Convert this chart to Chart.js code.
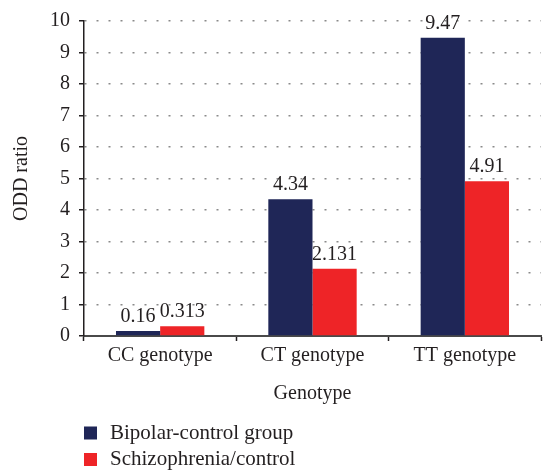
<!DOCTYPE html>
<html>
<head>
<meta charset="utf-8">
<script src="https://cdn.jsdelivr.net/npm/chart.js@4.4.1/dist/chart.umd.min.js"></script>
<style>
  html, body { margin: 0; padding: 0; background: #ffffff; }
  #wrap { width: 543px; height: 470px; position: relative; }
</style>
</head>
<body>
<div id="wrap"><canvas id="c" width="543" height="470"></canvas></div>
<script>
const categories = ["CC genotype", "CT genotype", "TT genotype"];
const bipolarValues = [0.16, 4.34, 9.47];
const schizoValues = [0.313, 2.131, 4.91];
const bipolarLabels = ["0.16", "4.34", "9.47"];
const schizoLabels = ["0.313", "2.131", "4.91"];
const seriesNames = ["Bipolar-control group", "Schizophrenia/control"];
const yTicks = [0, 1, 2, 3, 4, 5, 6, 7, 8, 9, 10];

const NAVY = "#1f2657";
const RED = "#ee2427";
const TEXT = "#231f20";
const FONT = "'Liberation Serif', 'DejaVu Serif', serif";

const valueLabelPlugin = {
  id: "valueLabels",
  afterDatasetsDraw(chart) {
    const ctx = chart.ctx;
    const texts = [bipolarLabels, schizoLabels];
    ctx.save();
    ctx.font = "20px " + FONT;
    ctx.fillStyle = TEXT;
    ctx.textAlign = "center";
    ctx.textBaseline = "alphabetic";
    chart.data.datasets.forEach((ds, di) => {
      const meta = chart.getDatasetMeta(di);
      meta.data.forEach((bar, i) => {
        ctx.fillText(texts[di][i], bar.x, bar.y - 9);
      });
    });
    ctx.restore();
  }
};

const customLegend = {
  id: "customLegend",
  afterDraw(chart) {
    const ctx = chart.ctx;
    const left = chart.chartArea.left;
    ctx.save();
    ctx.font = "21px " + FONT;
    ctx.textBaseline = "middle";
    ctx.textAlign = "left";
    chart.data.datasets.forEach((ds, i) => {
      const yc = 433 + i * 26.5;
      ctx.fillStyle = ds.backgroundColor;
      ctx.fillRect(left, yc - 6.5, 13, 13);
      ctx.fillStyle = TEXT;
      ctx.fillText(ds.label, left + 26, yc);
    });
    ctx.restore();
  }
};

new Chart(document.getElementById("c"), {
  type: "bar",
  data: {
    labels: categories,
    datasets: [
      { label: seriesNames[0], data: bipolarValues, backgroundColor: NAVY, borderWidth: 0 },
      { label: seriesNames[1], data: schizoValues, backgroundColor: RED, borderWidth: 0 }
    ]
  },
  options: {
    responsive: false,
    animation: false,
    devicePixelRatio: 1,
    layout: { padding: { left: 0, right: 2, top: 17, bottom: 64 } },
    datasets: { bar: { categoryPercentage: 0.58, barPercentage: 1.0 } },
    plugins: {
      legend: { display: false },
      tooltip: { enabled: false }
    },
    scales: {
      x: {
        offset: true,
        grid: {
          offset: true,
          drawOnChartArea: false,
          drawTicks: true,
          tickLength: 5,
          tickColor: TEXT,
          tickWidth: 1.5
        },
        border: { display: true, color: "#4a4a4a", width: 2 },
        ticks: { color: TEXT, font: { family: FONT, size: 20 }, padding: 3, maxRotation: 0 },
        title: { display: true, text: "Genotype", color: TEXT, font: { family: FONT, size: 20 }, padding: { top: 5, bottom: 0 } },
        afterFit(scale) { scale.height = 70; }
      },
      y: {
        min: 0,
        max: 10,
        afterBuildTicks(scale) { scale.ticks = yTicks.map(v => ({ value: v })); },
        grid: {
          color: "#8a8a8a",
          lineWidth: 1.5,
          drawTicks: true,
          tickLength: 5,
          tickColor: TEXT,
          tickWidth: 1.5,
          tickBorderDash: [],
        },
        border: { display: true, color: TEXT, width: 1.5, dash: [2, 10] },
        ticks: { color: TEXT, font: { family: FONT, size: 20 }, padding: 9 },
        title: { display: true, text: "ODD ratio", color: TEXT, font: { family: FONT, size: 20 }, padding: { top: 10, bottom: 0 } },
        afterFit(scale) { scale.width = 84; }
      }
    }
  },
  plugins: [valueLabelPlugin, customLegend]
});
</script>
</body>
</html>
